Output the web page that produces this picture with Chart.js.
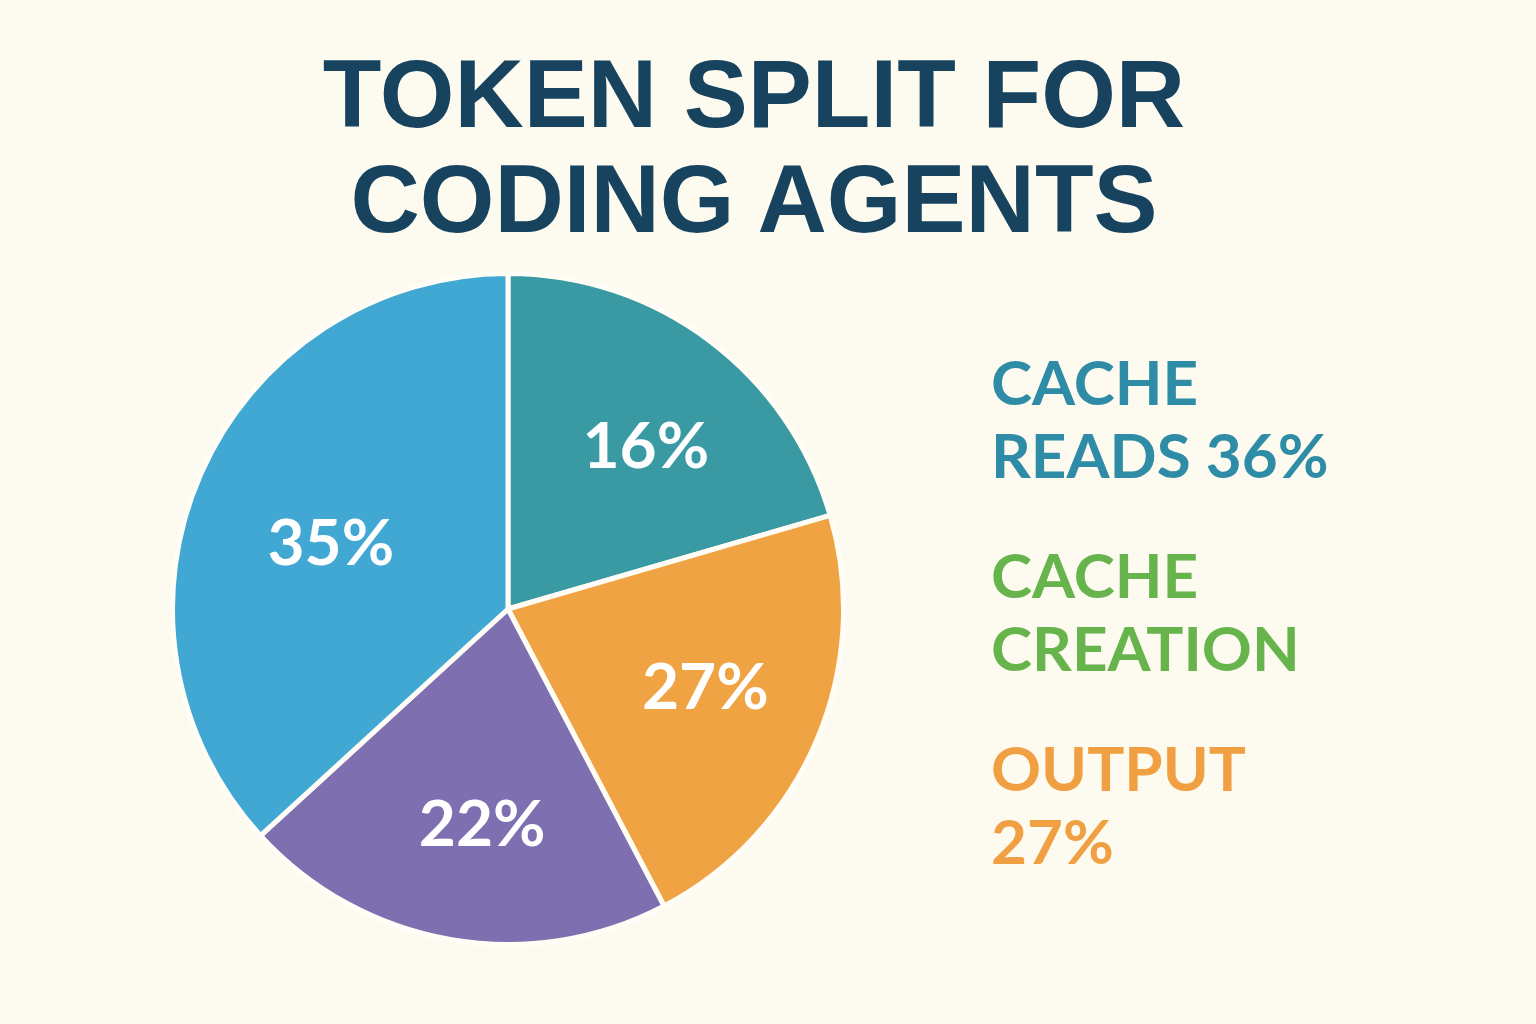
<!DOCTYPE html>
<html>
<head>
<meta charset="utf-8">
<script src="https://cdn.jsdelivr.net/npm/chart.js@4"></script>
<style>
  html, body { margin: 0; padding: 0; }
  body { width: 1536px; height: 1024px; background: #FDFBF0; position: relative; overflow: hidden; }
  #title {
    position: absolute; left: 0; top: 41px; width: 1508px; text-align: center;
    font-family: "Liberation Sans", Arial, sans-serif; font-weight: 700; font-size: 96px;
    line-height: 105px; color: #17435F;
  }
  #pieBox { position: absolute; left: 170px; top: 271px; width: 676px; height: 676px; }
  #legend { position: absolute; left: 991px; top: 345px; font-family: Lato, sans-serif; font-weight: 700; font-size: 62px; line-height: 73px; }
  #legend div { margin-bottom: 47px; }
</style>
</head>
<body>
<div id="title">TOKEN SPLIT FOR<br>CODING AGENTS</div>
<div id="pieBox"><canvas id="pieChart"></canvas></div>
<div id="legend"></div>
<script>
// slices, clockwise from 12 o'clock
const categories = ['Cache reads', 'Output', 'Other', 'Input'];
// share of the circle as drawn (the printed labels do not match the angles)
const shares = [20.5, 21.8, 20.9, 36.8];
const sliceLabels = ['16%', '27%', '22%', '35%'];
const sliceColors = ['#3A9AA4', '#F0A342', '#7E6FB0', '#41A8D4'];

const legendLines = [['CACHE', 'READS 36%'], ['CACHE', 'CREATION'], ['OUTPUT', '27%']];
const legendColors = ['#2F8CA6', '#66B44B', '#F0A042'];

const legendEl = document.getElementById('legend');
legendLines.forEach((lines, i) => {
  const d = document.createElement('div');
  d.style.color = legendColors[i];
  d.innerHTML = lines.join('<br>');
  legendEl.appendChild(d);
});

// white percentage labels inside the slices
const sliceLabelPlugin = {
  id: 'sliceLabels',
  afterDatasetsDraw(chart, args, opts) {
    const ctx = chart.ctx;
    const meta = chart.getDatasetMeta(0);
    ctx.save();
    ctx.fillStyle = '#FFFFFF';
    ctx.font = '700 64px Lato, sans-serif';
    ctx.textAlign = 'center';
    ctx.textBaseline = 'middle';
    meta.data.forEach((arc, i) => {
      const mid = (arc.startAngle + arc.endAngle) / 2 + opts.turn[i] * Math.PI / 180;
      const r = arc.outerRadius * opts.radius[i];
      ctx.fillText(sliceLabels[i], arc.x + Math.cos(mid) * r, arc.y + Math.sin(mid) * r + 3);
    });
    ctx.restore();
  }
};

new Chart(document.getElementById('pieChart'), {
  type: 'pie',
  data: {
    labels: categories,
    datasets: [{
      data: shares,
      backgroundColor: sliceColors,
      borderColor: '#FFFDF6',
      borderWidth: 5,
      hoverOffset: 0
    }]
  },
  options: {
    responsive: true,
    maintainAspectRatio: false,
    animation: false,
    events: [],
    plugins: {
      legend: { display: false },
      tooltip: { enabled: false },
      sliceLabels: { radius: [0.64, 0.63, 0.64, 0.565], turn: [3, -2, -3, -3] }
    }
  },
  plugins: [sliceLabelPlugin]
});
</script>
</body>
</html>
